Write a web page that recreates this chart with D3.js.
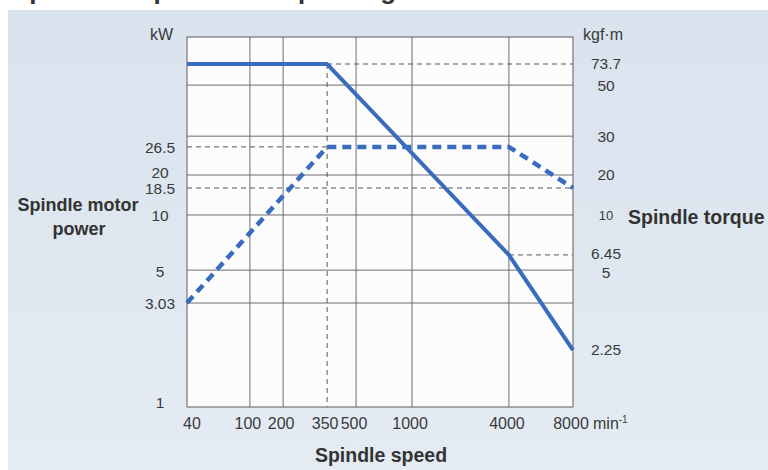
<!DOCTYPE html>
<html><head><meta charset="utf-8">
<script src="https://cdn.jsdelivr.net/npm/d3@7"></script>
<style>body{margin:0;background:#fff}svg{display:block}text{font-family:"Liberation Sans",Arial,sans-serif}</style>
</head><body><svg id="c" width="768" height="470"></svg>
<script>
// ---- data ----
const speedTicks = [40, 100, 200, 350, 500, 1000, 4000, 8000];
const speedTickLabels = ["40", "100", "200", "350", "500", "1000", "4000", "8000"];
const speedGrid = [100, 200, 500, 1000, 4000];
const powerTicks = [26.5, 20, 18.5, 10, 5, 3.03, 1];
const torqueTicks = [73.7, 50, 30, 20, 10, 6.45, 5, 2.25];
const valueGrid = [3.03, 5, 10, 20, 30, 50];
const torqueSpeed = [40, 350, 4000, 8000];
const torqueValue = [73.7, 73.7, 6.45, 2.25];
const powerSpeed = [40, 350, 4000, 8000];
const powerValue = [3.03, 26.5, 26.5, 18.5];
const refX = [[350, 350], [350, 8000], [40, 350], [40, 8000], [4000, 8000]];
const refY = [[73.7, 1], [73.7, 73.7], [26.5, 26.5], [18.5, 18.5], [6.45, 6.45]];

// ---- layout ----
const svg = d3.select("#c");
const L = 187, R = 573, T = 37, B = 407, W = R - L, H = B - T;
// hand-drawn diagram: piecewise log scales
const xFrac = [0, 0.163, 0.249, 0.363, 0.438, 0.583, 0.834, 1];
const yDom = [1, 2.25, 3.03, 5, 6.45, 10, 18.5, 20, 26.5, 30, 50, 73.7, 120];
const yFrac = [0, 0.154, 0.281, 0.370, 0.411, 0.519, 0.592, 0.627, 0.703, 0.732, 0.870, 0.927, 1];
const x = d3.scaleLog().domain(speedTicks).range(xFrac.map(f => L + f * W));
const y = d3.scaleLog().domain(yDom).range(yFrac.map(f => B - f * H));

const defs = svg.append("defs");
const g = defs.append("linearGradient").attr("id", "bg").attr("x1", 0).attr("y1", 0).attr("x2", 0).attr("y2", 1);
g.append("stop").attr("offset", "0%").attr("stop-color", "#d9e3ee");
g.append("stop").attr("offset", "100%").attr("stop-color", "#e4ebf3");

// cut-off title (only its lowest part shows above the panel)
svg.append("text").attr("x", 12).attr("y", -1).attr("font-size", 26).attr("font-weight", "bold")
  .attr("fill", "#333").text("Spindle output and torque diagram");
svg.append("rect").attr("x", 8).attr("y", 10).attr("width", 760).attr("height", 460).attr("fill", "url(#bg)");

// plot area
svg.append("rect").attr("x", L).attr("y", T).attr("width", W).attr("height", H).attr("fill", "#fcfcfc");
const grid = svg.append("g").attr("stroke", "#6e6e6e").attr("stroke-width", 1);
grid.selectAll(".vx").data(speedGrid).join("line")
  .attr("x1", d => x(d)).attr("x2", d => x(d)).attr("y1", T).attr("y2", B);
grid.selectAll(".hy").data(valueGrid).join("line")
  .attr("x1", L).attr("x2", R).attr("y1", d => y(d)).attr("y2", d => y(d));

svg.append("g").attr("stroke", "#555").attr("stroke-width", 1).attr("stroke-dasharray", "5,4")
  .selectAll("line").data(refX.map((d, i) => [d, refY[i]])).join("line")
  .attr("x1", d => x(d[0][0])).attr("x2", d => x(d[0][1]))
  .attr("y1", d => y(d[1][0])).attr("y2", d => y(d[1][1]));

svg.append("rect").attr("x", L).attr("y", T).attr("width", W).attr("height", H)
  .attr("fill", "none").attr("stroke", "#5e5e5e").attr("stroke-width", 1);

// series
const line = d3.line().x(d => x(d[0])).y(d => y(d[1]));
svg.append("path").datum(powerSpeed.map((s, i) => [s, powerValue[i]]))
  .attr("d", line).attr("fill", "none").attr("stroke", "#3a6cbd").attr("stroke-width", 4.5)
  .attr("stroke-dasharray", "9,6");
svg.append("path").datum(torqueSpeed.map((s, i) => [s, torqueValue[i]]))
  .attr("d", line).attr("fill", "none").attr("stroke", "#3a6cbd").attr("stroke-width", 4)
  .attr("stroke-linejoin", "round");

// axes labels
const tc = "#3a3a3a";
const lt = svg.append("g").attr("fill", tc).attr("font-size", 15.5).attr("text-anchor", "middle");
lt.selectAll("text").data(powerTicks).join("text")
  .attr("x", 160).attr("y", d => y(d) + (d === 20 ? -2 : d === 1 ? -4 : 1)).attr("dy", "0.35em").text(d => d);
const rt = svg.append("g").attr("fill", tc).attr("font-size", 15.5).attr("text-anchor", "middle");
rt.selectAll("text").data(torqueTicks).join("text")
  .attr("x", 606).attr("y", d => y(d) + (d === 5 ? 2 : d === 6.45 ? -1 : 0)).attr("dy", "0.35em")
  .attr("font-size", d => d === 10 ? 13 : 15.5).text(d => d);
const bt = svg.append("g").attr("fill", tc).attr("font-size", 16).attr("text-anchor", "middle");
bt.selectAll("text").data(speedTicks).join("text")
  .attr("x", (d, i) => x(d) + (i === 0 ? 5 : -2)).attr("y", 429).text((d, i) => speedTickLabels[i]);
const mu = svg.append("text").attr("x", x(8000) + 20).attr("y", 429).attr("fill", tc).attr("font-size", 16);
mu.append("tspan").text("min");
mu.append("tspan").attr("font-size", 10).attr("dy", -6).text("-1");

svg.append("text").attr("x", 173).attr("y", 40).attr("text-anchor", "end").attr("fill", tc).attr("font-size", 16).text("kW");
svg.append("text").attr("x", 583).attr("y", 40).attr("fill", tc).attr("font-size", 16).text("kgf·m");

const tt = svg.append("g").attr("fill", "#333").attr("font-weight", "bold");
tt.append("text").attr("x", 78).attr("y", 211).attr("font-size", 18).attr("text-anchor", "middle").text("Spindle motor");
tt.append("text").attr("x", 79).attr("y", 235).attr("font-size", 18).attr("text-anchor", "middle").text("power");
tt.append("text").attr("x", 628).attr("y", 224).attr("font-size", 19.5).text("Spindle torque");
tt.append("text").attr("x", 381).attr("y", 462).attr("font-size", 19.5).attr("text-anchor", "middle").text("Spindle speed");
</script></body></html>
